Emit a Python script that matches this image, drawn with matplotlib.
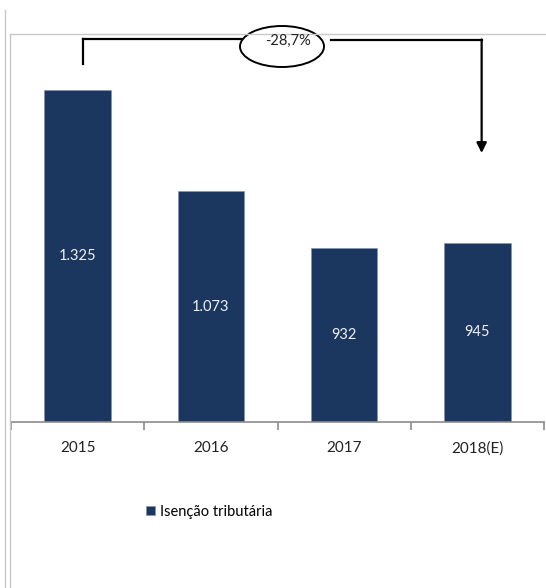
import matplotlib.pyplot as plt
from matplotlib.patches import Ellipse
from matplotlib.lines import Line2D

plt.rcParams['font.family'] = ['Lato', 'DejaVu Sans']

# dados
anos = ["2015", "2016", "2017", "2018(E)"]
valores = [1325, 1073, 932, 945]
rotulos = ["1.325", "1.073", "932", "945"]
serie = "Isenção tributária"
variacao = "-28,7%"

W, H = 546, 588
cor_barra = "#1b375f"


def fx(px):
    return px / W


def fy(py):
    return 1 - py / H


fig = plt.figure(figsize=(W / 100, H / 100), dpi=100)
ax = fig.add_axes([fx(11), fy(422), fx(544) - fx(11), fy(34) - fy(422)])

x = list(range(len(anos)))
bars = ax.bar(x, valores, width=0.5, color=cor_barra, edgecolor="#7f93ad",
              linewidth=0.4, label=serie)
ax.set_xlim(-0.5, 3.5)
ax.set_ylim(500, 1464)

for xi, v, r in zip(x, valores, rotulos):
    ax.text(xi, (500 + v) / 2, r, ha="center", va="center",
            color="#f0f0f0", fontsize=10.5)

for s in ["top", "left", "right"]:
    ax.spines[s].set_visible(False)
ax.spines["bottom"].set_color("#8c8c8c")
ax.spines["bottom"].set_linewidth(1.2)
ax.set_yticks([])
ax.set_xticks([-0.5, 0.5, 1.5, 2.5, 3.5])
ax.set_xticklabels([])
ax.tick_params(axis="x", which="major", length=6, color="#8c8c8c", width=1.2)
ax.set_xticks(x, minor=True)
ax.set_xticklabels(anos, minor=True, fontsize=11, color="#222222")
ax.tick_params(axis="x", which="minor", length=0, pad=14)

# bordas cinzas da área do gráfico
fig.add_artist(Line2D([fx(5), fx(5)], [fy(10), 0], color="#c8c8c8", lw=1))
fig.add_artist(Line2D([fx(9.5), fx(9.5)], [fy(34), 0], color="#c8c8c8", lw=1))
fig.add_artist(Line2D([fx(9.5), 1], [fy(34), fy(34)], color="#c8c8c8", lw=1))

# colchete com variação
xl, xr = 0.037, 3.032
tr = ax.get_xaxis_transform()
y_top = 1 - (38.5 - 34) / 388
y_top_r = 1 - (39.5 - 34) / 388
ax.plot([xl, xl], [1 - (64 - 34) / 388, y_top], color="black", lw=1.6,
        transform=tr, clip_on=False)
ax.plot([xl, 1.3], [y_top, y_top], color="black", lw=1.6, transform=tr,
        clip_on=False)
ax.plot([1.9, xr], [y_top_r, y_top_r], color="black", lw=1.6, transform=tr,
        clip_on=False)
ax.annotate("", xy=(xr, 1 - (153 - 34) / 388), xytext=(xr, y_top_r),
            xycoords=tr, textcoords=tr,
            arrowprops=dict(arrowstyle="-|>", color="black", lw=1.6,
                            mutation_scale=15, shrinkA=0, shrinkB=0))
ell = Ellipse((fx(282), fy(46.5)), width=fx(84), height=41 / H,
              transform=fig.transFigure, facecolor="white",
              edgecolor="black", lw=1.4)
fig.add_artist(ell)
fig.text(fx(288), fy(41), variacao, ha="center", va="center", fontsize=10.5,
         color="#222222")

leg = fig.legend(handles=[bars], labels=[serie], loc="center left",
                 bbox_to_anchor=(fx(140), fy(512)), frameon=False,
                 fontsize=10.5, handlelength=0.6, handleheight=0.6,
                 handletextpad=0.4, borderaxespad=0)

fig.savefig("out.png", dpi=100)
